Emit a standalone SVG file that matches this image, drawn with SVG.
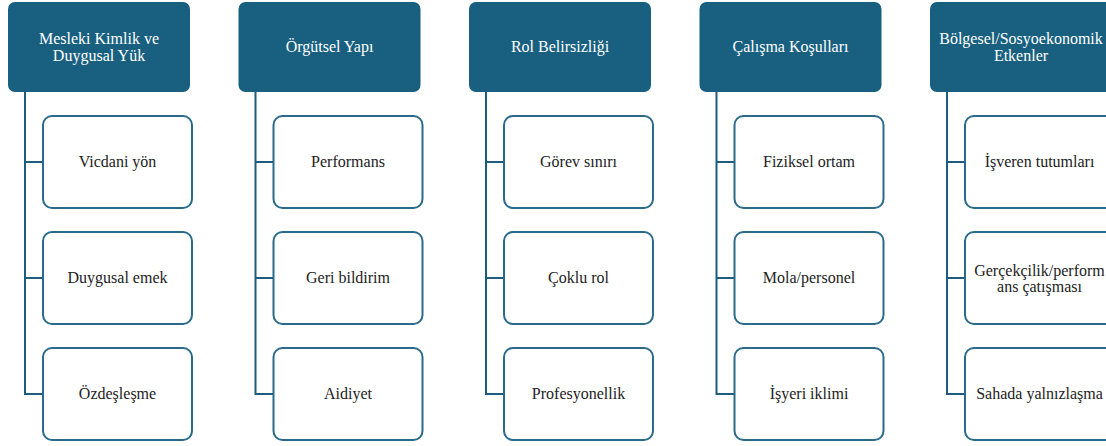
<svg xmlns="http://www.w3.org/2000/svg" width="1106" height="446" viewBox="0 0 1106 446">
<style>
.hd{fill:#185f80;}
.ch{fill:#ffffff;stroke:#2a6b8c;stroke-width:2;}
.cn{fill:none;stroke:#1d5c7c;stroke-width:2;}
text{font-family:'Liberation Serif','DejaVu Serif',serif;font-size:16px;text-anchor:middle;}
.ht{fill:#ffffff;}
.ct{fill:#222222;}
</style>
<rect width="1106" height="446" fill="#ffffff"/>
<g id="connectors">
<path class="cn" d="M25 92 V394 H43 M25 162 H43 M25 278 H43"/>
<path class="cn" d="M255.5 92 V394 H273.5 M255.5 162 H273.5 M255.5 278 H273.5"/>
<path class="cn" d="M486 92 V394 H504 M486 162 H504 M486 278 H504"/>
<path class="cn" d="M716.5 92 V394 H734.5 M716.5 162 H734.5 M716.5 278 H734.5"/>
<path class="cn" d="M947 92 V394 H965 M947 162 H965 M947 278 H965"/>
</g>
<g id="h1"><rect class="hd" x="8" y="2" width="182" height="90" rx="7"/><text class="ht" x="99" y="44">Mesleki Kimlik ve</text><text class="ht" x="99" y="61">Duygusal Yük</text></g>
<g id="h2"><rect class="hd" x="238.5" y="2" width="182" height="90" rx="7"/><text class="ht" x="329.5" y="52">Örgütsel Yapı</text></g>
<g id="h3"><rect class="hd" x="469" y="2" width="182" height="90" rx="7"/><text class="ht" x="560" y="52">Rol Belirsizliği</text></g>
<g id="h4"><rect class="hd" x="699.5" y="2" width="182" height="90" rx="7"/><text class="ht" x="790.5" y="52">Çalışma Koşulları</text></g>
<g id="h5"><rect class="hd" x="930" y="2" width="182" height="90" rx="7"/><text class="ht" x="1021" y="44">Bölgesel/Sosyoekonomik</text><text class="ht" x="1021" y="61">Etkenler</text></g>
<g id="c1a"><rect class="ch" x="43" y="116" width="149" height="92" rx="9"/><text class="ct" x="117.5" y="167">Vicdani yön</text></g>
<g id="c1b"><rect class="ch" x="43" y="232" width="149" height="92" rx="9"/><text class="ct" x="117.5" y="283">Duygusal emek</text></g>
<g id="c1c"><rect class="ch" x="43" y="348" width="149" height="92" rx="9"/><text class="ct" x="117.5" y="399">Özdeşleşme</text></g>
<g id="c2a"><rect class="ch" x="273.5" y="116" width="149" height="92" rx="9"/><text class="ct" x="348" y="167">Performans</text></g>
<g id="c2b"><rect class="ch" x="273.5" y="232" width="149" height="92" rx="9"/><text class="ct" x="348" y="283">Geri bildirim</text></g>
<g id="c2c"><rect class="ch" x="273.5" y="348" width="149" height="92" rx="9"/><text class="ct" x="348" y="399">Aidiyet</text></g>
<g id="c3a"><rect class="ch" x="504" y="116" width="149" height="92" rx="9"/><text class="ct" x="578.5" y="167">Görev sınırı</text></g>
<g id="c3b"><rect class="ch" x="504" y="232" width="149" height="92" rx="9"/><text class="ct" x="578.5" y="283">Çoklu rol</text></g>
<g id="c3c"><rect class="ch" x="504" y="348" width="149" height="92" rx="9"/><text class="ct" x="578.5" y="399">Profesyonellik</text></g>
<g id="c4a"><rect class="ch" x="734.5" y="116" width="149" height="92" rx="9"/><text class="ct" x="809" y="167">Fiziksel ortam</text></g>
<g id="c4b"><rect class="ch" x="734.5" y="232" width="149" height="92" rx="9"/><text class="ct" x="809" y="283">Mola/personel</text></g>
<g id="c4c"><rect class="ch" x="734.5" y="348" width="149" height="92" rx="9"/><text class="ct" x="809" y="399">İşyeri iklimi</text></g>
<g id="c5a"><rect class="ch" x="965" y="116" width="149" height="92" rx="9"/><text class="ct" x="1039.5" y="167">İşveren tutumları</text></g>
<g id="c5b"><rect class="ch" x="965" y="232" width="149" height="92" rx="9"/><text class="ct" x="1039.5" y="276">Gerçekçilik/perform</text><text class="ct" x="1039.5" y="292">ans çatışması</text></g>
<g id="c5c"><rect class="ch" x="965" y="348" width="149" height="92" rx="9"/><text class="ct" x="1039.5" y="399">Sahada yalnızlaşma</text></g>
</svg>
